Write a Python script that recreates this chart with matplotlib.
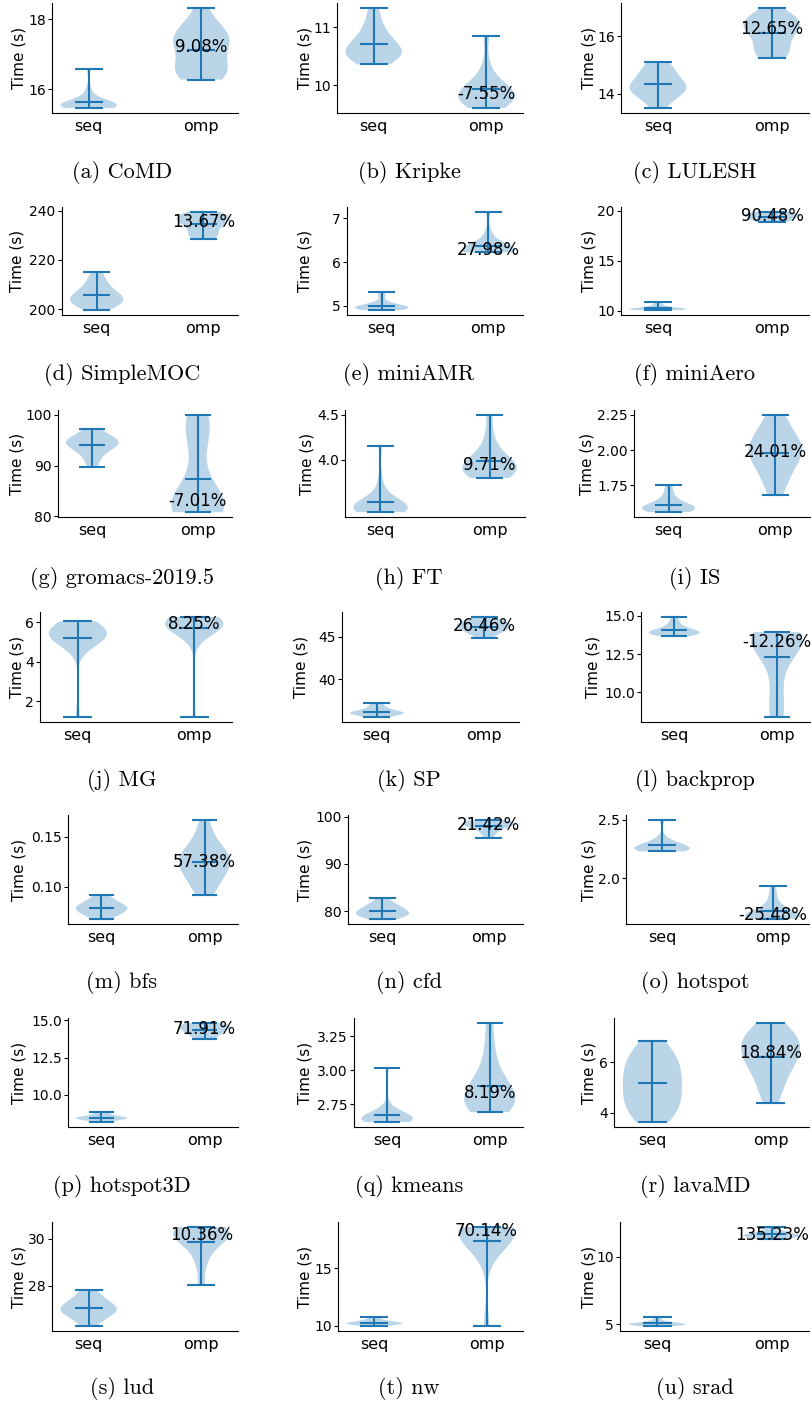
import matplotlib
matplotlib.use('Agg')
import matplotlib.pyplot as plt
import matplotlib.transforms as mtransforms
import numpy as np

# run times (s) for each benchmark, sequential vs openmp
comd_seq = [15.47, 15.49, 15.50, 15.50, 15.51, 15.52, 15.52, 15.53, 15.54, 15.54, 15.55, 15.55, 15.56, 15.58, 15.60, 15.63, 15.67, 15.72, 15.75, 15.85, 16.05, 16.57]
comd_omp = [16.28, 16.35, 16.42, 16.48, 16.55, 16.62, 16.75, 16.95, 17.15, 17.25, 17.32, 17.40, 17.48, 17.56, 17.65, 17.78, 17.95, 18.32]
kripke_seq = [10.36, 10.42, 10.47, 10.50, 10.53, 10.55, 10.58, 10.62, 10.66, 10.70, 10.76, 10.82, 10.90, 11.00, 11.15, 11.33]
kripke_omp = [9.61, 9.65, 9.69, 9.72, 9.75, 9.78, 9.81, 9.84, 9.87, 9.90, 9.93, 9.97, 10.03, 10.12, 10.35, 10.85]
lulesh_seq = [13.51, 13.70, 13.85, 13.95, 14.05, 14.10, 14.15, 14.20, 14.25, 14.30, 14.38, 14.45, 14.55, 14.65, 14.75, 14.88, 15.00, 15.10]
lulesh_omp = [15.25, 15.30, 15.40, 15.50, 15.60, 15.78, 15.92, 16.05, 16.15, 16.23, 16.30, 16.36, 16.42, 16.48, 16.54, 16.60, 16.68, 16.78, 16.97]
simplemoc_seq = [199.6, 200.8, 201.6, 202.2, 202.8, 203.3, 203.8, 204.3, 204.9, 205.5, 206.2, 207.0, 208.0, 209.2, 210.8, 212.8, 215.0]
simplemoc_omp = [228.6, 229.2, 229.8, 230.3, 231.8, 232.9, 233.8, 234.6, 235.3, 235.9, 236.3, 236.7, 237.1, 237.5, 237.9, 238.4, 239.0, 239.5]
miniamr_seq = [4.90, 4.91, 4.92, 4.93, 4.94, 4.95, 4.95, 4.96, 4.97, 4.98, 5.00, 5.01, 5.02, 5.08, 5.22, 5.32]
miniamr_omp = [6.22, 6.23, 6.23, 6.24, 6.25, 6.25, 6.26, 6.27, 6.28, 6.29, 6.31, 6.33, 6.36, 6.40, 6.46, 6.55, 6.70, 7.15]
miniaero_seq = [10.07, 10.09, 10.10, 10.12, 10.14, 10.16, 10.18, 10.20, 10.23, 10.27, 10.33, 10.45, 10.62, 10.87]
miniaero_omp = [18.87, 18.95, 19.05, 19.15, 19.25, 19.35, 19.45, 19.52, 19.58, 19.64, 19.70, 19.76, 19.87]
gromacs_seq = [89.7, 91.2, 92.3, 93.0, 93.6, 94.0, 94.3, 94.5, 94.7, 94.9, 95.2, 95.6, 96.3, 97.3]
gromacs_omp = [80.8, 81.0, 81.1, 81.2, 81.4, 81.5, 81.6, 81.8, 82.0, 82.3, 82.7, 83.3, 84.2, 86.0, 89.0, 93.0, 95.5, 97.0, 98.2, 99.0, 99.6, 100.0]
ft_seq = [3.42, 3.43, 3.43, 3.44, 3.44, 3.45, 3.45, 3.46, 3.46, 3.47, 3.47, 3.48, 3.48, 3.49, 3.50, 3.52, 3.54, 3.57, 3.62, 3.65, 3.80, 4.15]
ft_omp = [3.80, 3.81, 3.83, 3.85, 3.87, 3.89, 3.91, 3.93, 3.95, 3.97, 3.99, 4.02, 4.07, 4.15, 4.28, 4.50]
is_seq = [1.56, 1.565, 1.57, 1.575, 1.58, 1.585, 1.59, 1.595, 1.60, 1.61, 1.62, 1.635, 1.66, 1.70, 1.752]
is_omp = [1.68, 1.75, 1.80, 1.85, 1.89, 1.92, 1.95, 1.97, 1.99, 2.01, 2.03, 2.05, 2.08, 2.11, 2.15, 2.20, 2.25]
mg_seq = [1.2, 4.75, 4.95, 5.10, 5.20, 5.28, 5.34, 5.38, 5.40, 5.42, 5.45, 5.48, 5.50, 5.55, 5.60, 5.66, 5.74, 5.85, 6.05]
mg_omp = [1.2, 5.05, 5.35, 5.55, 5.68, 5.76, 5.82, 5.85, 5.87, 5.90, 5.91, 5.93, 5.95, 5.97, 5.99, 6.00, 6.01, 6.03, 6.05, 6.07, 6.10, 6.12, 6.18, 6.27]
sp_seq = [35.6, 35.75, 35.85, 35.92, 35.98, 36.03, 36.08, 36.13, 36.19, 36.26, 36.35, 36.48, 36.7, 36.95, 37.2]
sp_omp = [44.9, 45.2, 45.45, 45.65, 45.8, 45.95, 46.08, 46.2, 46.32, 46.44, 46.56, 46.68, 46.82, 47.0, 47.3]
backprop_seq = [13.68, 13.75, 13.80, 13.84, 13.87, 13.90, 13.93, 13.96, 14.00, 14.05, 14.12, 14.22, 14.38, 14.62, 14.93]
backprop_omp = [8.4, 8.6, 9.2, 10.2, 11.3, 12.1, 12.6, 12.95, 13.2, 13.38, 13.5, 13.58, 13.64, 13.7, 13.76, 13.82, 13.88, 13.94]
bfs_seq = [0.068, 0.0705, 0.0725, 0.074, 0.0755, 0.0768, 0.078, 0.079, 0.080, 0.081, 0.0822, 0.0838, 0.086, 0.0885, 0.0916]
bfs_omp = [0.0916, 0.098, 0.104, 0.109, 0.113, 0.117, 0.120, 0.1225, 0.125, 0.1275, 0.130, 0.1325, 0.1355, 0.139, 0.145, 0.154, 0.1667]
cfd_seq = [78.3, 78.6, 78.85, 79.05, 79.25, 79.45, 79.65, 79.9, 80.15, 80.4, 80.7, 81.0, 81.4, 81.9, 82.8]
cfd_omp = [95.5, 96.3, 96.9, 97.35, 97.7, 97.95, 98.15, 98.3, 98.45, 98.6, 98.72, 98.85, 98.98, 99.1, 99.3]
hotspot_seq = [2.23, 2.235, 2.24, 2.24, 2.245, 2.25, 2.25, 2.255, 2.26, 2.265, 2.27, 2.28, 2.29, 2.305, 2.31, 2.35, 2.50]
hotspot_omp = [1.65, 1.655, 1.66, 1.665, 1.67, 1.675, 1.68, 1.685, 1.69, 1.70, 1.71, 1.725, 1.75, 1.79, 1.85, 1.93]
hotspot3d_seq = [8.15, 8.24, 8.30, 8.34, 8.37, 8.40, 8.42, 8.44, 8.46, 8.49, 8.53, 8.60, 8.70, 8.80]
hotspot3d_omp = [13.74, 13.90, 14.05, 14.18, 14.30, 14.40, 14.48, 14.56, 14.63, 14.70, 14.77, 14.83]
kmeans_seq = [2.617, 2.62, 2.622, 2.625, 2.627, 2.63, 2.632, 2.635, 2.637, 2.64, 2.642, 2.645, 2.647, 2.65, 2.652, 2.658, 2.665, 2.675, 2.69, 2.70, 2.74, 3.017]
kmeans_omp = [2.69, 2.70, 2.715, 2.73, 2.75, 2.77, 2.79, 2.81, 2.83, 2.85, 2.87, 2.90, 2.94, 3.00, 3.08, 3.20, 3.35]
lavamd_seq = [3.63, 3.85, 4.05, 4.25, 4.45, 4.65, 4.85, 5.05, 5.25, 5.45, 5.65, 5.85, 6.05, 6.25, 6.45, 6.83]
lavamd_omp = [4.4, 4.8, 5.15, 5.45, 5.7, 5.9, 6.05, 6.2, 6.35, 6.5, 6.62, 6.75, 6.87, 7.0, 7.15, 7.32, 7.56]
lud_seq = [26.28, 26.5, 26.65, 26.75, 26.83, 26.9, 26.96, 27.02, 27.08, 27.15, 27.23, 27.32, 27.45, 27.62, 27.82]
lud_omp = [28.03, 28.9, 29.35, 29.65, 29.85, 30.0, 30.1, 30.18, 30.24, 30.3, 30.35, 30.4, 30.45, 30.5]
nw_seq = [9.97, 10.05, 10.10, 10.14, 10.17, 10.20, 10.23, 10.26, 10.30, 10.35, 10.42, 10.55, 10.72]
nw_omp = [9.97, 16.0, 17.0, 17.55, 17.85, 18.05, 18.2, 18.3, 18.38, 18.44, 18.49, 18.53, 18.57]
srad_seq = [4.85, 4.88, 4.91, 4.94, 4.96, 4.98, 5.00, 5.02, 5.05, 5.09, 5.15, 5.27, 5.49]
srad_omp = [11.33, 11.38, 11.43, 11.48, 11.52, 11.56, 11.60, 11.64, 11.69, 11.75, 11.83, 11.95, 12.20]

seq_times = [comd_seq, kripke_seq, lulesh_seq, simplemoc_seq, miniamr_seq, miniaero_seq,
             gromacs_seq, ft_seq, is_seq, mg_seq, sp_seq, backprop_seq,
             bfs_seq, cfd_seq, hotspot_seq, hotspot3d_seq, kmeans_seq, lavamd_seq,
             lud_seq, nw_seq, srad_seq]
omp_times = [comd_omp, kripke_omp, lulesh_omp, simplemoc_omp, miniamr_omp, miniaero_omp,
             gromacs_omp, ft_omp, is_omp, mg_omp, sp_omp, backprop_omp,
             bfs_omp, cfd_omp, hotspot_omp, hotspot3d_omp, kmeans_omp, lavamd_omp,
             lud_omp, nw_omp, srad_omp]

speedups = ['9.08%', '-7.55%', '12.65%', '13.67%', '27.98%', '90.48%', '-7.01%', '9.71%', '24.01%',
            '8.25%', '26.46%', '-12.26%', '57.38%', '21.42%', '-25.48%', '71.91%', '8.19%', '18.84%',
            '10.36%', '70.14%', '135.23%']
captions = ['(a) CoMD', '(b) Kripke', '(c) LULESH', '(d) SimpleMOC', '(e) miniAMR', '(f) miniAero',
            '(g) gromacs-2019.5', '(h) FT', '(i) IS', '(j) MG', '(k) SP', '(l) backprop',
            '(m) bfs', '(n) cfd', '(o) hotspot', '(p) hotspot3D', '(q) kmeans', '(r) lavaMD',
            '(s) lud', '(t) nw', '(u) srad']
yticks = [[16, 18], [10, 11], [14, 16], [200, 220, 240], [5, 6, 7], [10, 15, 20],
          [80, 90, 100], [4.0, 4.5], [1.75, 2.00, 2.25], [2, 4, 6], [40, 45], [10.0, 12.5, 15.0],
          [0.10, 0.15], [80, 90, 100], [2.0, 2.5], [10.0, 12.5, 15.0], [2.75, 3.00, 3.25], [4, 6],
          [28, 30], [10, 15], [5, 10]]

# layout in pixels (figure is 811 x 1404)
W, H = 811, 1404
row_top = [3, 207, 410, 612, 815, 1018, 1222]
row_bottom = [113, 315, 517, 722, 924, 1127, 1331]
lefts = [52, 337, 621, 62, 347, 621, 58, 345, 634, 40, 342, 641, 68, 348, 626, 68, 354, 614, 52, 338, 620]
rights = [238, 523, 809, 238, 523, 809, 232, 525, 810, 232, 519, 810, 238, 523, 809, 238, 523, 809, 238, 523, 809]
# right edge of the rotated "Time (s)" label
ylabel_x = [26, 312, 597, 25, 312, 597, 24, 314, 594, 24, 308, 601, 26, 312, 597, 26, 312, 597, 26, 312, 597]
caption_x = [122, 409, 695]
caption_y = [172, 374, 579, 781, 982, 1186, 1389]

plt.rcParams['font.size'] = 11.5

fig = plt.figure(figsize=(W / 100, H / 100), dpi=100)

for i in range(len(captions)):
    r, c = divmod(i, 3)
    ax = fig.add_axes([lefts[i] / W, 1 - row_bottom[r] / H,
                       (rights[i] - lefts[i]) / W, (row_bottom[r] - row_top[r]) / H])
    ax.violinplot([seq_times[i], omp_times[i]], showmeans=True)
    ax.set_xticks([1, 2])
    ax.set_xticklabels(['seq', 'omp'])
    ax.set_yticks(yticks[i])
    ax.set_ylabel('Time (s)', fontsize=11)
    trans = mtransforms.blended_transform_factory(fig.transFigure, ax.transAxes)
    ax.yaxis.set_label_coords(ylabel_x[i] / W, 0.5, transform=trans)
    ax.spines['top'].set_visible(False)
    ax.spines['right'].set_visible(False)
    ax.tick_params(axis='x', length=0, pad=4, labelsize=11.5)
    ax.tick_params(axis='y', length=3, pad=1.5, labelsize=10)
    ax.text(2, np.median(omp_times[i]), speedups[i], ha='center', va='center', fontsize=12)
    fig.text(caption_x[c] / W, 1 - caption_y[r] / H, captions[i], ha='center', va='center',
             family='cmr10', fontsize=16)

fig.savefig('out.png', dpi=100)
